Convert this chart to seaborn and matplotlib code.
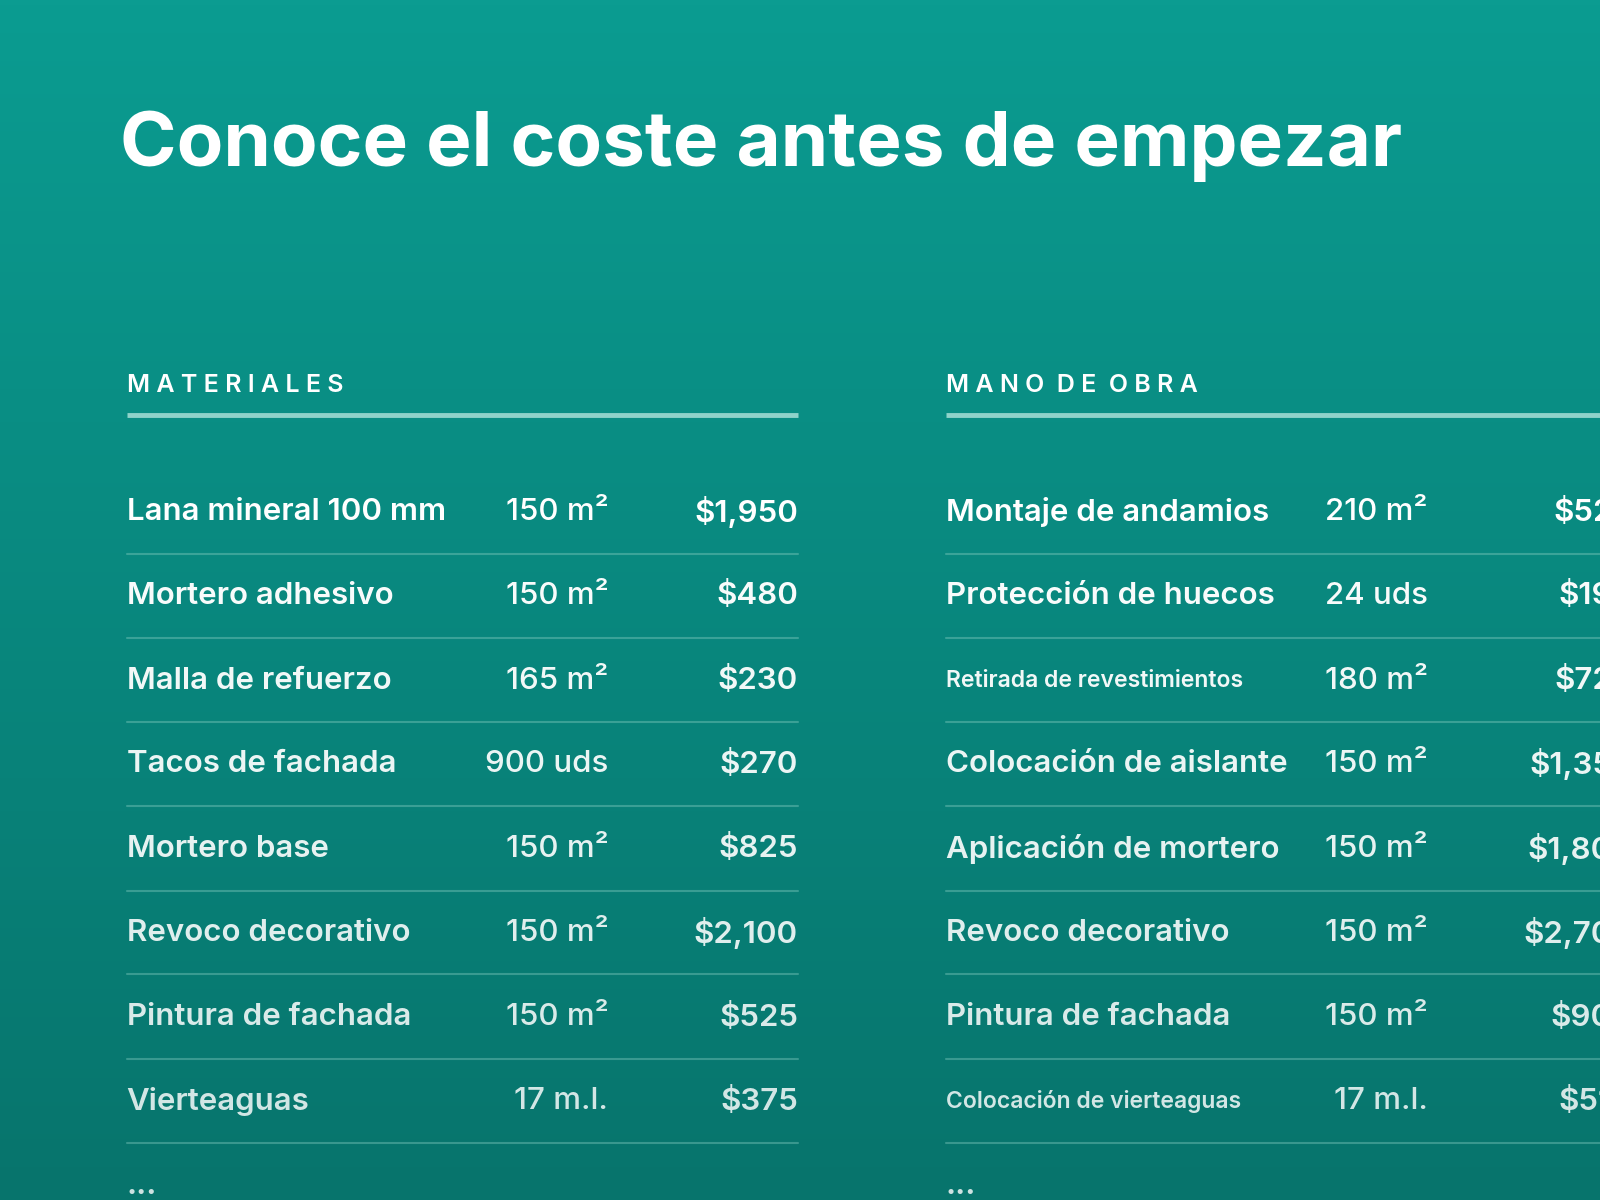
import numpy as np
import matplotlib
matplotlib.use("Agg")
import matplotlib.pyplot as plt
import seaborn as sns

sns.set_theme(style="white")
plt.rcParams['font.family'] = ['Inter', 'DejaVu Sans']

title = "Conoce el coste antes de empezar"
mat_header = "MATERIALES"
mat_names = ["Lana mineral 100 mm", "Mortero adhesivo", "Malla de refuerzo", "Tacos de fachada",
             "Mortero base", "Revoco decorativo", "Pintura de fachada", "Vierteaguas"]
mat_qty = ["150 m²", "150 m²", "165 m²", "900 uds", "150 m²", "150 m²", "150 m²", "17 m.l."]
mat_cost = ["$1,950", "$480", "$230", "$270", "$825", "$2,100", "$525", "$375"]
lab_header = "MANO DE OBRA"
lab_names = ["Montaje de andamios", "Protección de huecos", "Retirada de revestimientos",
             "Colocación de aislante", "Aplicación de mortero", "Revoco decorativo",
             "Pintura de fachada", "Colocación de vierteaguas"]
lab_qty = ["210 m²", "24 uds", "180 m²", "150 m²", "150 m²", "150 m²", "150 m²", "17 m.l."]
lab_cost = ["$525", "$190", "$720", "$1,350", "$1,800", "$2,700", "$900", "$510"]

W, H = 1568, 1176
fig = plt.figure(figsize=(16, 12), dpi=100)
bg = fig.add_axes([0, 0, 1, 1])
top = np.array([0x0b, 0x9c, 0x91]) / 255
bot = np.array([0x07, 0x74, 0x6c]) / 255
t = np.linspace(0, 1, 256)[:, None, None]
grad = top * (1 - t) + bot * t
bg.imshow(np.repeat(grad, 2, axis=1), aspect='auto', extent=[0, W, H, 0])
bg.set_xlim(0, W); bg.set_ylim(H, 0); bg.axis('off')

bg.text(118, 143, title, color='white', fontsize=55, fontweight='bold', va='center', ha='left')

row_y = [502, 584, 667, 749, 832, 914, 997, 1079]
def block(x0, x_qty, x_cost, x_end, header, names, qty, cost):
    spaced = "  ".join(" ".join(w) for w in header.split())
    bg.text(x0, 378, spaced, color='white', fontsize=18,
            fontweight='semibold', va='center', ha='left')
    bg.plot([x0, x_end], [407, 407], color='#8fd3ca', lw=3.5, solid_capstyle='butt')
    for i, y in enumerate(row_y):
        a = 1.0 - 0.025 * i
        col = (1, 1, 1, a)
        fs = 16.5 if len(names[i]) > 22 else 22.5
        bg.text(x0, y, names[i], color=col, fontsize=fs, fontweight='semibold', va='center', ha='left')
        bg.text(x_qty, y, qty[i], color=col, fontsize=22.5, fontweight='medium', va='center', ha='right')
        bg.text(x_cost, y, cost[i], color=col, fontsize=22.5, fontweight='semibold', va='center', ha='right')
        bg.plot([x0, x_end], [y + 41, y + 41], color=(0.6, 0.85, 0.8, 0.35), lw=1.5)
    bg.text(x0, 1162, "...", color=(1, 1, 1, 0.8), fontsize=22, fontweight='bold', va='center', ha='left')

block(124, 596, 782, 782, mat_header, mat_names, mat_qty, mat_cost)
block(927, 1399, 1600, 1600, lab_header, lab_names, lab_qty, lab_cost)

fig.savefig("out.png", dpi=100)
